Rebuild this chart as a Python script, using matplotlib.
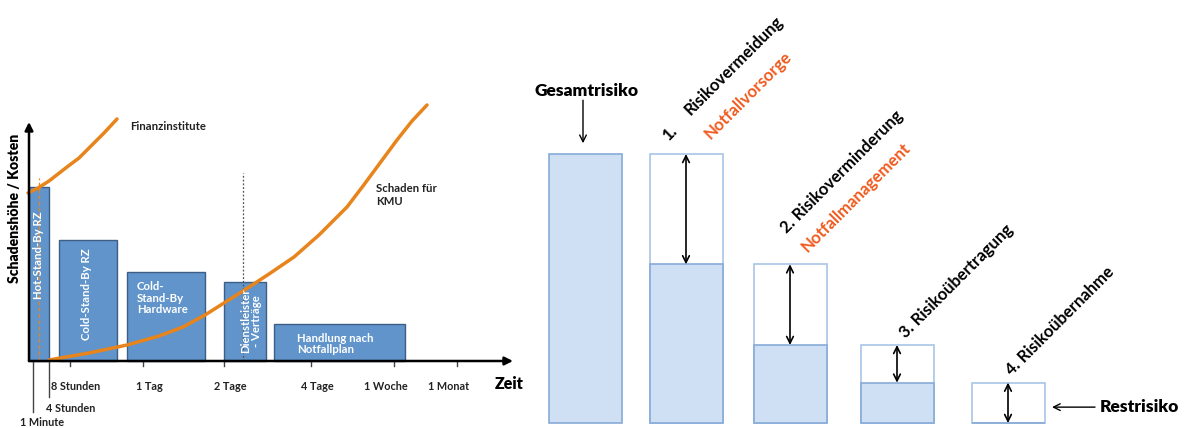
import matplotlib
matplotlib.use("Agg")
from matplotlib import pyplot as plt

plt.rcParams['font.family'] = ['Lato', 'DejaVu Sans']

# --- left: recovery options over downtime --------------------------------
# horizontal positions on the (non linear) time axis, heights = cost
options = ['Hot-Stand-By RZ', 'Cold-Stand-By RZ', 'Cold-\nStand-By\nHardware',
           'Dienstleister\n- Verträge', 'Handlung nach\nNotfallplan']
option_start = [0, 30, 98, 195, 245]
option_end = [20, 88, 176, 237, 376]
option_cost = [174, 121, 89, 79, 37]

time_labels = ['8 Stunden', '1 Tag', '2 Tage', '4 Tage', '1 Woche', '1 Monat']
time_ticks = [41, 114, 195, 282, 365, 428]

# damage curves
fin_t = [-1, 9, 20, 38, 50, 61, 75, 88]
fin_damage = [168, 173, 180, 194, 203, 214, 228, 242]
kmu_t = [20, 60, 98, 130, 154, 176, 195, 214, 240, 265, 290, 318, 334, 351,
         368, 383, 398]
kmu_damage = [1, 8, 16, 25, 34, 46, 58, 70, 87, 104, 126, 154, 175, 198,
              221, 240, 256]

# --- right: risk reduction steps ------------------------------------------
risk_level = [100, 59, 29, 15, 0]   # remaining risk after each step (%)
step_labels = ['1.', '2. Risikoverminderung', '3. Risikoübertragung',
               '4. Risikoübernahme']
step_measures = ['Notfallvorsorge', 'Notfallmanagement']

ORANGE = '#e8841c'
BLUE = '#6094ca'

fig = plt.figure(figsize=(11.86, 4.28), dpi=100)

ax = fig.add_axes([0, 0, 520 / 1186, 1])
ax.set_xlim(-29, 491)
ax.set_ylim(-67, 361)
ax.axis('off')

widths = [e - s for s, e in zip(option_start, option_end)]
ax.bar(option_start, option_cost, width=widths, align='edge', color=BLUE,
       edgecolor='#3d5f86', linewidth=1, zorder=2)

# axes with arrow heads
ax.annotate('', xy=(484, 0), xytext=(0, 0),
            arrowprops=dict(arrowstyle='-|>', lw=1.8, color='black',
                            mutation_scale=12, shrinkA=0, shrinkB=0), zorder=5)
ax.annotate('', xy=(0, 239), xytext=(0, 0),
            arrowprops=dict(arrowstyle='-|>', lw=1.8, color='black',
                            mutation_scale=12, shrinkA=0, shrinkB=0), zorder=5)

for t, lab in zip(time_ticks, time_labels):
    ax.plot([t, t], [0, -5], color='#444444', lw=1)
    ax.text(t - 8 if t > 300 else t + 6, -26, lab, ha='center', va='center',
            fontsize=7.8, fontweight='bold', color='#222222')
ax.text(466, -23, 'Zeit', ha='left', va='center', fontsize=11.5,
        fontweight='heavy')

# short / very short outages
ax.plot([4, 4], [0, -51], color='#444444', lw=1)
ax.plot([20, 20], [0, -36], color='#444444', lw=1)
ax.text(17, -48, '4 Stunden', ha='left', va='center', fontsize=7.8,
        fontweight='bold', color='#222222')
ax.text(-9, -62, '1 Minute', ha='left', va='center', fontsize=7.8,
        fontweight='bold', color='#222222')

ax.plot([10, 10], [0, 183], color=ORANGE, lw=0.9, ls=(0, (3, 2)), zorder=3)
ax.plot([214, 214], [0, 188], color='#555555', lw=0.9, ls=(0, (1.5, 1.5)),
        zorder=3)

ax.plot(fin_t, fin_damage, color=ORANGE, lw=2.5, solid_capstyle='round',
        solid_joinstyle='round', zorder=4)
ax.plot(kmu_t, kmu_damage, color=ORANGE, lw=2.5, solid_capstyle='round',
        solid_joinstyle='round', zorder=4)
ax.text(101, 235, 'Finanzinstitute', ha='left', va='center', fontsize=8.2,
        fontweight='bold', color='#222222')
ax.text(347, 166, 'Schaden für\nKMU', ha='left', va='center', fontsize=8.2,
        fontweight='bold', color='#222222', linespacing=1.3)

ax.text(-14, 153, 'Schadenshöhe / Kosten', rotation=90, ha='center',
        va='center', fontsize=10, fontweight='heavy')

# labels inside the bars
txt = dict(color='white', fontsize=8.2, fontweight='bold', zorder=6)
ax.text(10, 106, options[0], rotation=90, ha='center', va='center', **txt)
ax.text(58, 67, options[1], rotation=90, ha='center', va='center', **txt)
ax.text(108, 63, options[2], ha='left', va='center', linespacing=1.1, **txt)
ax.text(222, 40, options[3], rotation=90, ha='center', va='center',
        linespacing=1.0, **txt)
ax.text(268, 17, options[4], ha='left', va='center', linespacing=1.1, **txt)

# --- right panel ------------------------------------------------------------
ax2 = fig.add_axes([520 / 1186, 0, 666 / 1186, 1])
ax2.set_xlim(0, 666)
ax2.set_ylim(-5 / 2.69, 423 / 2.69)
ax2.axis('off')

centers = [65, 166, 270, 377, 488]
bw = 73
ax2.bar(centers[1:], risk_level[:-1], width=bw, color='white',
        edgecolor='#a9c5e7', linewidth=1.2)
ax2.bar(centers, [risk_level[0]] + risk_level[1:], width=bw, color='#cfe0f4',
        edgecolor='#86abd6', linewidth=1.2)

for c, top, bottom in zip(centers[1:], risk_level[:-1], risk_level[1:]):
    ax2.annotate('', xy=(c, bottom), xytext=(c, top),
                 arrowprops=dict(arrowstyle='<->', lw=1.2, color='black',
                                 mutation_scale=12, shrinkA=0, shrinkB=0))

ax2.text(67, 123.4, 'Gesamtrisiko', ha='center', va='center', fontsize=12.5,
         fontweight='heavy')
ax2.annotate('', xy=(63, 104), xytext=(63, 120),
             arrowprops=dict(arrowstyle='->', lw=1, color='black',
                             mutation_scale=12, shrinkA=0, shrinkB=0))

rot = dict(rotation=45, rotation_mode='anchor', ha='center', va='center',
           fontsize=12, fontweight='bold')
ax2.text(150, 107.8, step_labels[0], **rot)
ax2.text(214, 132.7, 'Risikovermeidung', **rot)
ax2.text(228, 121.9, step_measures[0], color='#f05a1e', **rot)
ax2.text(322, 93.3, step_labels[1], **rot)
ax2.text(336, 84.0, step_measures[1], color='#f05a1e', **rot)
ax2.text(436, 52.8, step_labels[2], **rot)
ax2.text(540, 37.9, step_labels[3], **rot)

ax2.text(580, 5.9, 'Restrisiko', ha='left', va='center', fontsize=12.5,
         fontweight='heavy')
ax2.annotate('', xy=(532, 5.9), xytext=(575, 5.9),
             arrowprops=dict(arrowstyle='->', lw=1, color='black',
                             mutation_scale=12, shrinkA=0, shrinkB=0))

plt.savefig('out.png', dpi=100)
